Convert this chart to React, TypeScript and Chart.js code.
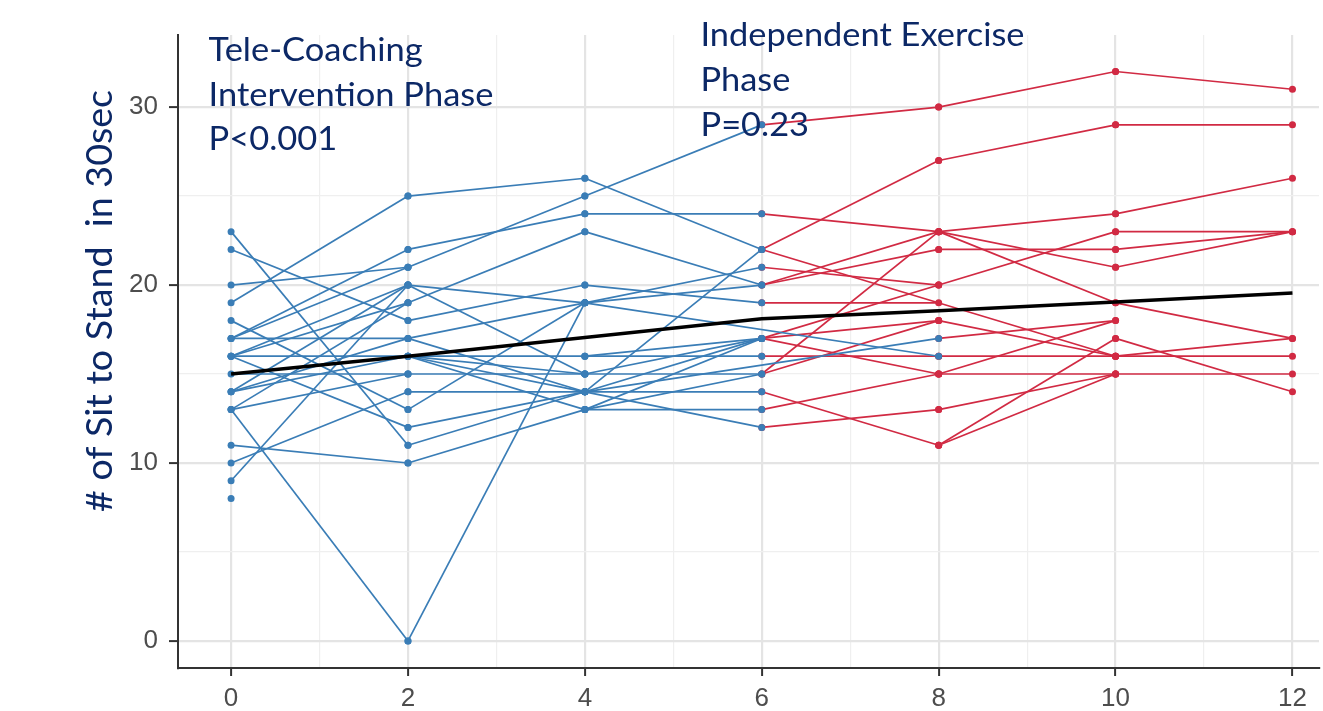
import React, { useEffect, useRef } from "react";
import { Chart, registerables } from "chart.js";

Chart.register(...registerables);

// ---- Data ----
const weekTicks = [0, 2, 4, 6, 8, 10, 12];
const meanScores = [15, 16, 17.05, 18.1, 18.55, 19.05, 19.55];

// Tele-coaching phase segments (score at start week, score at end week)
const blueWeek0to2: [number, number][] = [
  [23, 11], [22, 18], [20, 21], [19, 25], [18, 13], [17, 22], [17, 21], [17, 17],
  [16, 20], [16, 19], [16, 16], [16, 12], [15, 15], [14, 20], [14, 17], [14, 16],
  [13, 19], [13, 0], [13, 15], [11, 10], [10, 14], [9, 20],
];
const blueWeek2to4: [number, number][] = [
  [25, 26], [22, 24], [21, 25], [20, 19], [20, 15], [19, 23], [18, 20], [17, 19],
  [17, 14], [16, 16], [16, 15], [16, 14], [16, 13], [15, 15], [14, 14], [13, 19],
  [12, 14], [11, 14], [10, 13], [0, 19],
];
const blueWeek4to6: [number, number][] = [
  [26, 22], [25, 29], [24, 24], [23, 20], [20, 19], [19, 21], [19, 20], [16, 16],
  [16, 17], [15, 17], [15, 15], [14, 22], [14, 17], [14, 14], [14, 12], [13, 15],
  [13, 13], [13, 17],
];
const blueWeek4to8: [number, number][] = [[19, 16], [14, 17]];
const blueLoneWeek0: number[] = [8];

// Independent exercise phase segments
const redWeek6to8: [number, number][] = [
  [29, 30], [24, 23], [22, 27], [21, 20], [20, 23], [20, 22], [19, 19], [17, 20],
  [17, 18], [17, 15], [16, 16], [15, 23], [15, 18], [14, 11], [13, 15], [12, 13],
];
const redWeek6to10: [number, number][] = [[22, 16]];
const redWeek8to10: [number, number][] = [
  [30, 32], [27, 29], [23, 24], [23, 21], [23, 19], [22, 22], [20, 23], [18, 16],
  [17, 18], [16, 16], [15, 15], [15, 18], [13, 15], [11, 15], [11, 17],
];
const redWeek10to12: [number, number][] = [
  [32, 31], [29, 29], [24, 26], [23, 23], [22, 23], [21, 23], [19, 17], [17, 14],
  [16, 17], [16, 16], [15, 15],
];

const yTitle = "# of Sit to Stand  in 30sec";
const leftNote = ["Tele-Coaching", "Intervention Phase", "P<0.001"];
const rightNote = ["Independent Exercise", "Phase", "P=0.23"];

const BLUE = "#3a7db6";
const RED = "#d12a43";
const NAVY = "#0c2866";

function segmentSets(pairs: [number, number][], from: number, to: number, color: string) {
  return pairs.map(([a, b]) => ({
    data: [{ x: from, y: a }, { x: to, y: b }],
    borderColor: color,
    backgroundColor: color,
    borderWidth: 1.7,
    pointRadius: 3.5,
    pointBorderWidth: 0,
    pointHoverRadius: 3.5,
    showLine: true,
  }));
}

const notesPlugin = {
  id: "notes",
  afterDraw(chart: any) {
    const ctx = chart.ctx as CanvasRenderingContext2D;
    const font = "33px Lato, 'Open Sans', sans-serif";
    const block = (lines: string[], x: number, baselines: number[], target: number) => {
      ctx.save();
      ctx.font = font;
      ctx.fillStyle = NAVY;
      ctx.textAlign = "left";
      ctx.textBaseline = "alphabetic";
      const w = Math.max(...lines.map((l) => ctx.measureText(l).width));
      const s = target / w;
      lines.forEach((l, i) => {
        ctx.save();
        ctx.translate(x, baselines[i]);
        ctx.scale(s, 1);
        ctx.fillText(l, 0, 0);
        ctx.restore();
      });
      ctx.restore();
    };
    block(leftNote, 208.5, [61, 106, 150], 285);
    block(rightNote, 700.5, [46, 91, 136], 324);

    // rotated axis title
    ctx.save();
    ctx.font = "37px Lato, 'Open Sans', sans-serif";
    ctx.fillStyle = NAVY;
    ctx.textAlign = "center";
    ctx.textBaseline = "alphabetic";
    const tw = ctx.measureText(yTitle).width;
    ctx.translate(112, 301);
    ctx.rotate(-Math.PI / 2);
    ctx.scale(422 / tw, 1);
    ctx.fillText(yTitle, 0, 0);
    ctx.restore();
  },
};

export default function App() {
  const ref = useRef<HTMLCanvasElement | null>(null);

  useEffect(() => {
    if (!ref.current) return;
    // Chart.js paints the first dataset last (on top): mean line, then blue, then red.
    const datasets: any[] = [
      {
        data: weekTicks.map((w, i) => ({ x: w, y: meanScores[i] })),
        borderColor: "#000000",
        borderWidth: 3.5,
        pointRadius: 0,
        showLine: true,
      },
      {
        data: blueLoneWeek0.map((v) => ({ x: 0, y: v })),
        borderColor: BLUE,
        backgroundColor: BLUE,
        pointRadius: 3.5,
        pointBorderWidth: 0,
        showLine: false,
      },
      ...segmentSets(blueWeek0to2, 0, 2, BLUE),
      ...segmentSets(blueWeek2to4, 2, 4, BLUE),
      ...segmentSets(blueWeek4to6, 4, 6, BLUE),
      ...segmentSets(blueWeek4to8, 4, 8, BLUE),
      ...segmentSets(redWeek6to8, 6, 8, RED),
      ...segmentSets(redWeek6to10, 6, 10, RED),
      ...segmentSets(redWeek8to10, 8, 10, RED),
      ...segmentSets(redWeek10to12, 10, 12, RED),
    ];

    const chart = new Chart(ref.current, {
      type: "scatter",
      data: { datasets },
      options: {
        animation: false,
        responsive: false,
        devicePixelRatio: 1,
        layout: { padding: { top: 35, left: 0, right: 0, bottom: 0 } },
        plugins: { legend: { display: false }, tooltip: { enabled: false } },
        scales: {
          x: {
            type: "linear",
            min: -0.6,
            max: 12.3,
            afterFit: (s: any) => {
              s.height = 43;
            },
            border: { display: true, color: "#333333", width: 2 },
            grid: {
              color: (c: any) => (c.tick && c.tick.value % 2 === 0 ? "#e4e4e4" : "#efefef"),
              lineWidth: (c: any) => (c.tick && c.tick.value % 2 === 0 ? 2.2 : 1.2),
              tickColor: (c: any) => (c.tick && c.tick.value % 2 === 0 ? "#333333" : "rgba(0,0,0,0)"),
              tickWidth: 2,
              tickLength: 8,
            },
            ticks: {
              stepSize: 1,
              autoSkip: false,
              includeBounds: false,
              maxRotation: 0,
              padding: 7,
              color: "#4d4d4d",
              font: { family: "'Liberation Sans', Arial, sans-serif", size: 26 },
              callback: (v: any) => (Number(v) % 2 === 0 ? String(v) : ""),
            },
          },
          y: {
            type: "linear",
            min: -1.52,
            max: 34.05,
            afterFit: (s: any) => {
              s.width = 178;
            },
            border: { display: true, color: "#333333", width: 2 },
            grid: {
              color: (c: any) => (c.tick && c.tick.value % 10 === 0 ? "#e4e4e4" : "#efefef"),
              lineWidth: (c: any) => (c.tick && c.tick.value % 10 === 0 ? 2.2 : 1.2),
              tickColor: (c: any) => (c.tick && c.tick.value % 10 === 0 ? "#333333" : "rgba(0,0,0,0)"),
              tickWidth: 2,
              tickLength: 9,
            },
            ticks: {
              stepSize: 5,
              autoSkip: false,
              includeBounds: false,
              padding: 11,
              color: "#4d4d4d",
              font: { family: "'Liberation Sans', Arial, sans-serif", size: 26 },
              callback: (v: any) => (Number(v) % 10 === 0 ? String(v) : ""),
            },
          },
        },
      },
      plugins: [notesPlugin],
    });
    return () => chart.destroy();
  }, []);

  return (
    <div style={{ position: "absolute", left: 0, top: 0, width: 1323, height: 711, background: "#ffffff" }}>
      <canvas ref={ref} width={1323} height={711} style={{ display: "block" }} />
    </div>
  );
}
